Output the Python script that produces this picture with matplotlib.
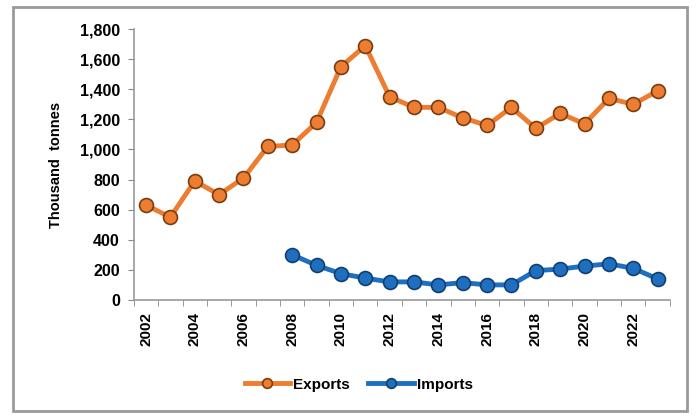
import matplotlib
matplotlib.use("Agg")
import matplotlib.pyplot as plt
from matplotlib.patches import Rectangle

years = list(range(2002, 2024))
exports = [630, 550, 790, 700, 810, 1020, 1030, 1180, 1550, 1690, 1350, 1280,
           1280, 1210, 1160, 1280, 1140, 1240, 1170, 1340, 1300, 1390]
import_years = list(range(2008, 2024))
imports = [300, 230, 175, 145, 120, 120, 100, 115, 100, 100, 195, 205, 225, 240, 210, 140]

orange = "#ED7D31"
blue = "#1F6FC0"

plt.rcParams["font.family"] = ["Liberation Sans", "DejaVu Sans"]

fig = plt.figure(figsize=(6.97, 4.16), dpi=100)
ax = fig.add_axes([0.192, 0.279, 0.769, 0.651])

# outer frame like the excel chart area
fig.patches.append(Rectangle((0.018, 0.012), 0.968, 0.972, transform=fig.transFigure,
                             fill=False, edgecolor="#9a9a9a", linewidth=2))

ax.plot(years, exports, color=orange, lw=3.5, marker="o", markersize=10,
        markerfacecolor=orange, markeredgecolor="#7a3d10", markeredgewidth=1.2,
        label="Exports", zorder=3)
ax.plot(import_years, imports, color=blue, lw=3.5, marker="o", markersize=10,
        markerfacecolor=blue, markeredgecolor="#123f70", markeredgewidth=1.2,
        label="Imports", zorder=3)

ax.set_xlim(2001.5, 2023.5)
ax.set_ylim(0, 1800)
ax.set_yticks(range(0, 1801, 200))
ax.set_yticklabels([f"{v:,}" for v in range(0, 1801, 200)], fontsize=11.5, fontweight="bold")

# category axis: labels every other year, ticks between categories
ax.set_xticks(years[::2])
ax.set_xticklabels([str(y) for y in years[::2]], rotation=90, fontsize=11, fontweight="bold")
ax.tick_params(axis="x", length=0, pad=9)
ax.set_xticks([y + 0.5 for y in range(2001, 2024)], minor=True)
ax.tick_params(axis="x", which="minor", length=4, color="#888888")
ax.tick_params(axis="y", length=4, color="#888888", pad=6)

for s in ["top", "right"]:
    ax.spines[s].set_visible(False)
for s in ["left", "bottom"]:
    ax.spines[s].set_color("#999999")
    ax.spines[s].set_linewidth(1.2)

ax.set_ylabel("Thousand  tonnes", fontsize=10.5, fontweight="bold", labelpad=12)

fig.legend(loc="center", bbox_to_anchor=(0.515, 0.075), ncol=2, frameon=False,
           prop={"weight": "bold", "size": 11}, handlelength=3, markerscale=0.7,
           columnspacing=1.2, handletextpad=0.2)

fig.savefig("out.png", dpi=100)
